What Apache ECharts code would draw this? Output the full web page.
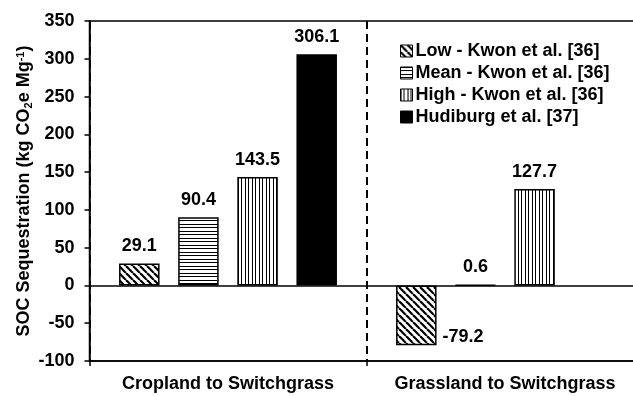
<!DOCTYPE html>
<html>
<head>
<meta charset="utf-8">
<script src="https://cdn.jsdelivr.net/npm/echarts@6/dist/echarts.min.js"></script>
<style>
html,body{margin:0;padding:0;background:#fff;}
#chart{width:633px;height:396px;}
</style>
</head>
<body>
<div id="chart"></div>
<script>
// ---- data ----
var categories = ['Cropland to Switchgrass', 'Grassland to Switchgrass'];
var seriesNames = ['Low - Kwon et al. [36]', 'Mean - Kwon et al. [36]', 'High - Kwon et al. [36]', 'Hudiburg et al. [37]'];
var lowValues = [29.1, -79.2];
var meanValues = [90.4, 0.6];
var highValues = [143.5, 127.7];
var hudiburgValues = [306.1, null];
var yTicks = { min: -100, max: 350, step: 50 };

// ---- patterns ----
function makeTile(w, h, draw) {
  var c = document.createElement('canvas');
  c.width = w; c.height = h;
  var ctx = c.getContext('2d');
  ctx.fillStyle = '#fff';
  ctx.fillRect(0, 0, w, h);
  ctx.strokeStyle = '#000';
  ctx.fillStyle = '#000';
  draw(ctx, w, h);
  return { image: c, repeat: 'repeat' };
}
var diagPattern = makeTile(7, 7, function (ctx, w, h) {
  ctx.lineWidth = 2.2;
  [-7, 0, 7].forEach(function (k) {
    ctx.beginPath(); ctx.moveTo(k, 0); ctx.lineTo(k + 7, 7); ctx.stroke();
  });
});
var horizPattern = makeTile(7, 7, function (ctx, w, h) {
  ctx.fillRect(0, 0, w, 1);
  ctx.fillRect(0, 3, w, 1);
});
var vertPattern = makeTile(7, 7, function (ctx, w, h) {
  ctx.fillRect(0, 0, 1, h);
  ctx.fillRect(3, 0, 1, h);
});

var FONT = '"Liberation Sans", Arial, sans-serif';
var labelBase = { show: true, position: 'top', distance: 8, color: '#000', fontSize: 18, fontWeight: 'bold', fontFamily: FONT };

function barSeries(name, values, color, labelOverrides) {
  return {
    name: name,
    type: 'bar',
    barWidth: 40.5,
    barGap: '46%',
    data: values.map(function (v, i) {
      var d = { value: v };
      if (labelOverrides && labelOverrides[i]) d.label = labelOverrides[i];
      return d;
    }),
    itemStyle: { color: color, borderColor: '#000', borderWidth: 1.5 },
    label: labelBase
  };
}

var series = [
  barSeries(seriesNames[0], lowValues, diagPattern, { 1: { position: 'right', distance: 6, offset: [0, 22] } }),
  barSeries(seriesNames[1], meanValues, horizPattern),
  barSeries(seriesNames[2], highValues, vertPattern),
  barSeries(seriesNames[3], hudiburgValues, '#000')
];
series[0].markLine = {
  silent: true, symbol: 'none', animation: false,
  label: { show: false },
  lineStyle: { color: '#000', width: 1.5, type: 'solid' },
  data: [{ yAxis: 0 }]
};

var chart = echarts.init(document.getElementById('chart'), null, { renderer: 'canvas' });
chart.setOption({
  animation: false,
  backgroundColor: '#fff',
  textStyle: { fontFamily: FONT },
  grid: {
    left: 89.5, top: 21, width: 554, bottom: 35,
    containLabel: false, outerBoundsMode: 'none',
    show: true, borderColor: '#000', borderWidth: 1.5, backgroundColor: 'transparent'
  },
  legend: {
    orient: 'vertical', left: 395, top: 37, itemWidth: 12, itemHeight: 12, itemGap: 4,
    icon: 'rect',
    itemStyle: { borderColor: '#000', borderWidth: 1 },
    textStyle: { fontSize: 18, fontWeight: 'bold', color: '#000', fontFamily: FONT, padding: [0, 0, 0, -2] },
    data: seriesNames
  },
  xAxis: {
    type: 'category', data: categories, position: 'bottom',
    axisLine: { onZero: false, lineStyle: { color: '#000', width: 1.5 } },
    axisTick: { show: true, interval: 0, length: 5, lineStyle: { color: '#000', width: 1.5 } },
    axisLabel: { interval: 0, fontSize: 18, fontWeight: 'bold', color: '#000', fontFamily: FONT, margin: 14 },
    splitLine: { show: true, interval: 0, lineStyle: { color: '#000', width: 2, type: [8, 5] } }
  },
  yAxis: {
    type: 'value', min: yTicks.min, max: yTicks.max, interval: yTicks.step,
    name: '{a|SOC Sequestration (kg CO}{sub|2}{a|e Mg}{sup|-1}{a|)}',
    nameLocation: 'middle', nameGap: 53, nameMoveOverlap: false,
    nameTextStyle: {
      fontSize: 18, fontWeight: 'bold', color: '#000', fontFamily: FONT,
      rich: {
        a: { fontSize: 18, fontWeight: 'bold', color: '#000', fontFamily: FONT, lineHeight: 24 },
        sub: { fontSize: 11, fontWeight: 'bold', color: '#000', fontFamily: FONT, lineHeight: 24, verticalAlign: 'bottom', padding: [0, 0, 2, 0] },
        sup: { fontSize: 11, fontWeight: 'bold', color: '#000', fontFamily: FONT, lineHeight: 24, verticalAlign: 'top', padding: [3, 0, 0, 0] }
      }
    },
    axisLine: { show: true, lineStyle: { color: '#000', width: 1.5 } },
    axisTick: { show: true, length: 5, lineStyle: { color: '#000', width: 1.5 } },
    axisLabel: { fontSize: 18, fontWeight: 'bold', color: '#000', fontFamily: FONT, margin: 15 },
    splitLine: { show: false }
  },
  series: series
});
</script>
</body>
</html>
